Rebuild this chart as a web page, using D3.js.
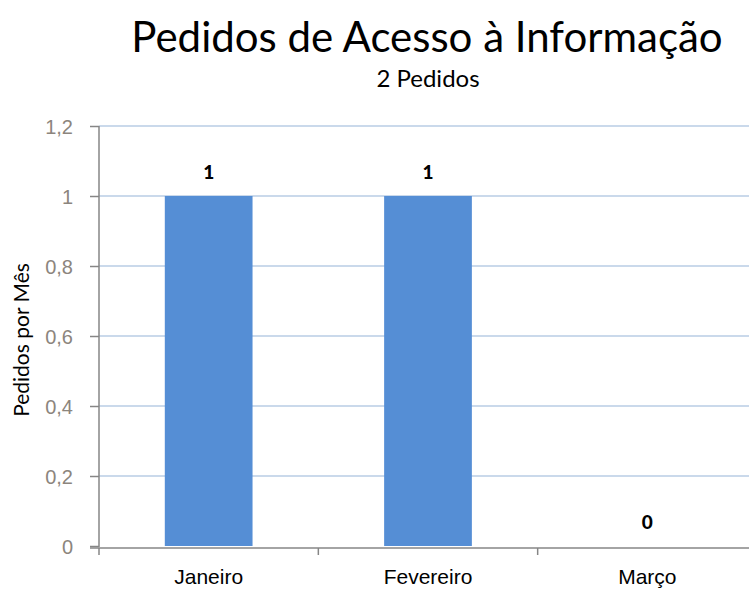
<!DOCTYPE html>
<meta charset="utf-8">
<style>
  body { margin: 0; background: #fff; }
  svg { display: block; font-family: Lato, "Open Sans", sans-serif; }
</style>
<body>
<svg id="chart" width="749" height="589"></svg>
<script src="https://d3js.org/d3.v7.min.js"></script>
<script>
  const months = ["Janeiro", "Fevereiro", "Março"];
  const pedidos = [1, 1, 0];
  const yTicks = [0, 0.2, 0.4, 0.6, 0.8, 1, 1.2];
  const title = "Pedidos de Acesso à Informação";
  const subtitle = "2 Pedidos";
  const yLabel = "Pedidos por Mês";

  const svg = d3.select("#chart");
  const mLeft = 99, mRight = 757, mTop = 126, mBottom = 546;

  const x = d3.scaleBand().domain(months).range([mLeft, mRight]);
  const y = d3.scaleLinear().domain([0, 1.2]).range([mBottom, mTop]);

  // gridlines
  svg.append("g")
    .selectAll("line")
    .data(yTicks.filter(d => d > 0))
    .join("line")
    .attr("x1", mLeft).attr("x2", mRight)
    .attr("y1", d => y(d)).attr("y2", d => y(d))
    .attr("stroke", "#b9cde5").attr("stroke-width", 1.3);

  // bars
  const bw = x.bandwidth() * 0.4;
  svg.append("g")
    .selectAll("rect")
    .data(months)
    .join("rect")
    .attr("x", (d) => x(d) + (x.bandwidth() - bw) / 2)
    .attr("y", (d, i) => y(pedidos[i]))
    .attr("width", bw)
    .attr("height", (d, i) => y(0) - y(pedidos[i]))
    .attr("fill", "#558ed5");

  // value labels
  svg.append("g")
    .selectAll("text")
    .data(months)
    .join("text")
    .attr("x", d => x(d) + x.bandwidth() / 2)
    .attr("y", (d, i) => y(pedidos[i]) - 17)
    .attr("text-anchor", "middle")
    .attr("font-size", 19)
    .attr("font-weight", "900")
    .attr("fill", "#000")
    .text((d, i) => pedidos[i]);

  // y axis
  const yAxis = svg.append("g")
    .attr("transform", `translate(${mLeft},0)`)
    .call(d3.axisLeft(y).tickValues(yTicks).tickSize(9).tickPadding(17)
      .tickFormat(d => String(d).replace(".", ",")));
  yAxis.selectAll("path, line").attr("stroke", "#868686").attr("stroke-width", 1.5);
  yAxis.select(".domain").attr("d", `M0,${mTop}V${mBottom + 1}`);
  yAxis.selectAll(".tick text")
    .attr("dy", "0.35em")
    .style("font-size", "20px")
    .style("fill", "#8c857d");

  // x axis
  const xAxis = svg.append("g")
    .attr("transform", `translate(0,${mBottom + 2})`)
    .call(d3.axisBottom(x).tickSize(0).tickPadding(0));
  xAxis.select(".domain").attr("stroke", "#868686").attr("stroke-width", 1.5)
    .attr("d", `M${mLeft - 9},0H${mRight}`);
  xAxis.selectAll(".tick text")
    .attr("dy", null)
    .attr("y", 36)
    .style("font-size", "21px")
    .style("fill", "#000");
  svg.append("g")
    .selectAll("line")
    .data(months)
    .join("line")
    .attr("x1", d => x(d)).attr("x2", d => x(d))
    .attr("y1", mBottom + 2).attr("y2", mBottom + 9)
    .attr("stroke", "#868686").attr("stroke-width", 1.5);

  // titles
  svg.append("text")
    .attr("x", 427).attr("y", 52)
    .attr("text-anchor", "middle")
    .attr("font-size", 42)
    .attr("fill", "#000")
    .text(title);
  svg.append("text")
    .attr("x", 428).attr("y", 87)
    .attr("text-anchor", "middle")
    .attr("font-size", 24)
    .attr("fill", "#000")
    .text(subtitle);

  svg.append("text")
    .attr("transform", `translate(29,${(mTop + mBottom) / 2 + 4}) rotate(-90)`)
    .attr("text-anchor", "middle")
    .attr("font-size", 21)
    .attr("fill", "#000")
    .text(yLabel);
</script>
</body>
